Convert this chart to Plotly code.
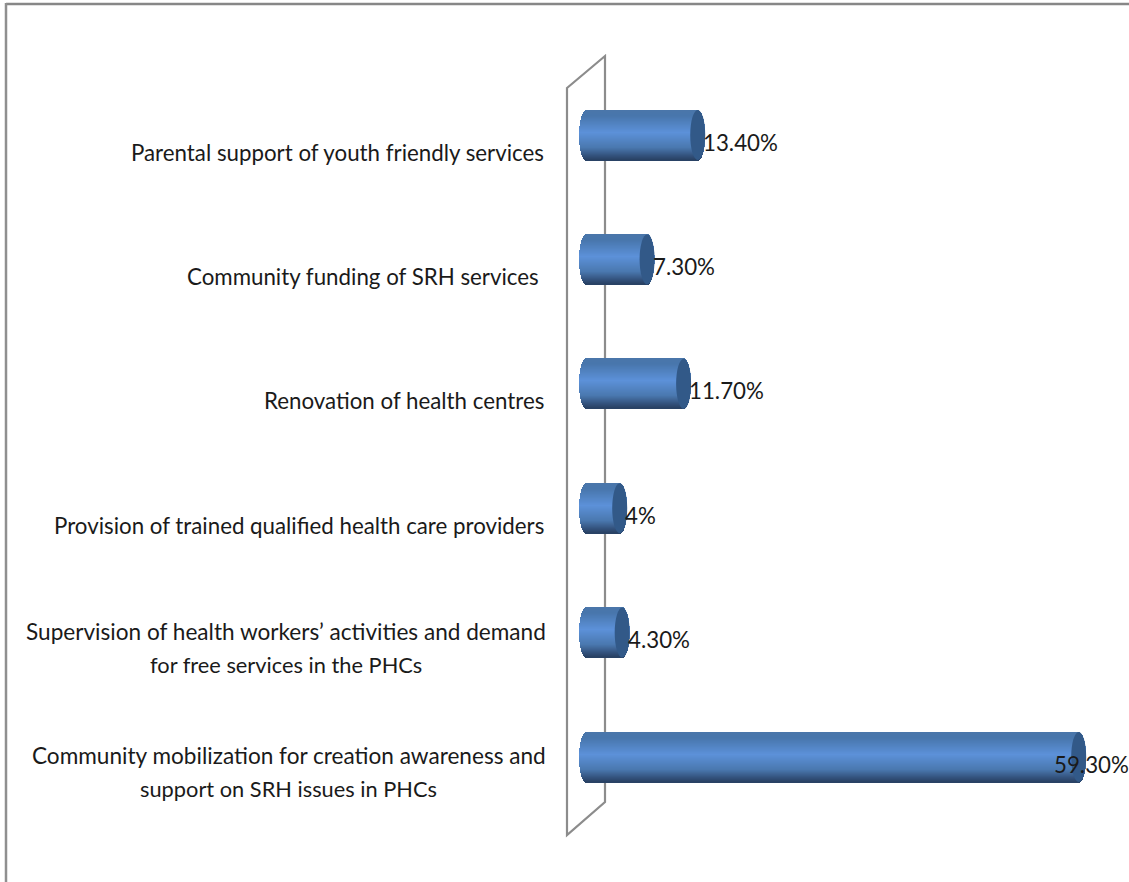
import math
import plotly.graph_objects as go

# ---- data (bottom to top as drawn) ----
categories = [
    "Community mobilization for creation awareness and<br>support on SRH issues in PHCs",
    "Supervision of health workers’ activities and demand<br>for free services in the PHCs",
    "Provision of trained qualified health care providers",
    "Renovation of health centres",
    "Community funding of SRH services\u00a0",
    "Parental support of youth friendly services",
]
values = [59.3, 4.3, 4.0, 11.7, 7.3, 13.4]
value_labels = ["59.30%", "4.30%", "4%", "11.70%", "7.30%", "13.40%"]

# ---- page geometry ----
W, H = 1129, 882
PLOT_LEFT = 567
X0_PX, PX_PER_X = 586.5, 8.3
Y0_PX, PX_PER_Y = 757.0, 124.4
BAR_PX = 50.0
CAP_RX_PX = 7.5
LABEL_RIGHT_PX = 546
TWO_LINE_CENTRE_PX = {0: 288.5, 1: 285.5}
LINE_GAP_PX = 33


def px_x(p):
    return (p - X0_PX) / PX_PER_X


def px_y(p):
    return (Y0_PX - p) / PX_PER_Y


def paper_x(p):
    return (p - PLOT_LEFT) / (W - PLOT_LEFT)


def paper_y(p):
    return 1 - p / H


rx = CAP_RX_PX / PX_PER_X
bar_h = BAR_PX / PX_PER_Y

stops = [(0.0, (74, 118, 170)), (0.12, (72, 118, 172)), (0.45, (92, 145, 217)),
         (0.75, (74, 120, 175)), (0.92, (50, 80, 122)), (1.0, (40, 64, 98))]


def band_colour(t):
    for (a, ca), (b, cb) in zip(stops, stops[1:]):
        if t <= b:
            f = (t - a) / (b - a)
            c = [round(ca[i] + (cb[i] - ca[i]) * f) for i in range(3)]
            return f"rgb({c[0]},{c[1]},{c[2]})"
    return "rgb(40,64,98)"


fig = go.Figure()
N = 50
for i in range(N):
    t = (i + 0.5) / N
    s = math.sqrt(max(0.0, 1 - (2 * t - 1) ** 2))
    ext = rx * s
    top = bar_h / 2 - bar_h * i / N
    step = bar_h / N * 1.15
    fig.add_trace(go.Bar(
        y=categories,
        x=[v + 2 * ext for v in values],
        base=[-ext] * len(values),
        orientation="h",
        width=step,
        offset=top - step,
        marker=dict(color=band_colour(t), line=dict(width=0)),
        showlegend=False,
        hoverinfo="skip",
    ))

shapes = [
    # chart frame
    dict(type="line", xref="paper", yref="paper", x0=paper_x(6), x1=paper_x(W),
         y0=paper_y(4), y1=paper_y(4), line=dict(color="#878787", width=2.5)),
    dict(type="line", xref="paper", yref="paper", x0=paper_x(6), x1=paper_x(6),
         y0=paper_y(3), y1=paper_y(H), line=dict(color="#8f8f8f", width=2.5)),
    # 3-D back wall
    dict(type="path", xref="paper", yref="paper", layer="below",
         path=f"M{paper_x(567)},{paper_y(88)} L{paper_x(605)},{paper_y(56)} "
              f"L{paper_x(605)},{paper_y(802)} L{paper_x(567)},{paper_y(835)} Z",
         line=dict(color="#8c8c8c", width=2.2)),
]

TEXT_COLOUR = "#1a1a1a"
annotations = []
for k, (cat, v, lab) in enumerate(zip(categories, values, value_labels)):
    # dark end cap of the cylinder
    shapes.append(dict(type="circle", xref="x", yref="y", layer="above",
                       x0=v - rx, x1=v + rx,
                       y0=k - bar_h / 2, y1=k + bar_h / 2,
                       fillcolor="#325988", line=dict(width=0)))
    # category label
    lines = cat.split("<br>")
    if len(lines) == 1:
        annotations.append(dict(xref="paper", yref="y", x=paper_x(LABEL_RIGHT_PX), y=k,
                                text=cat, xanchor="right", yanchor="middle",
                                yshift=-17, showarrow=False,
                                font=dict(size=22.3, color=TEXT_COLOUR)))
    else:
        for j, line in enumerate(lines):
            annotations.append(dict(xref="paper", yref="y",
                                    x=paper_x(TWO_LINE_CENTRE_PX[k]), y=k,
                                    text=line, xanchor="center", yanchor="middle",
                                    yshift=-15 + LINE_GAP_PX / 2 * (1 - 2 * j),
                                    showarrow=False,
                                    font=dict(size=22.6 if j == 0 else 21.8, color=TEXT_COLOUR)))
    # value label
    annotations.append(dict(xref="x", yref="y", x=v + rx, y=k, text=lab,
                            xanchor="left", yanchor="middle",
                            xshift=-34 if v > 50 else -4, yshift=-7,
                            showarrow=False, font=dict(size=22.3, color=TEXT_COLOUR)))

fig.update_layout(
    width=W, height=H,
    margin=dict(l=PLOT_LEFT, r=0, t=0, b=0),
    paper_bgcolor="white", plot_bgcolor="white",
    barmode="overlay", bargap=0,
    font=dict(family="Lato, Carlito, sans-serif"),
    shapes=shapes, annotations=annotations,
    xaxis=dict(range=[px_x(PLOT_LEFT), px_x(W)], visible=False, fixedrange=True),
    yaxis=dict(type="category", categoryorder="array", categoryarray=categories,
               range=[px_y(H), px_y(0)], showticklabels=False, ticks="",
               showgrid=False, zeroline=False, showline=False, fixedrange=True),
)
fig.write_html("out.html", config=dict(displayModeBar=False),
               post_script="document.body.style.margin='0';document.body.style.overflow='hidden';")
